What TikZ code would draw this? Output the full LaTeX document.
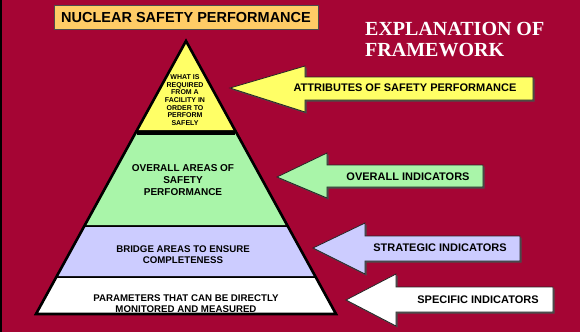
\documentclass[tikz,border=0pt]{standalone}
\usepackage{fontspec}
\setmainfont{Liberation Sans}
\newfontfamily\headserif{Liberation Serif}
\definecolor{slidered}{HTML}{A50534}
\definecolor{titleorange}{HTML}{FFCC66}
\definecolor{attryellow}{HTML}{FFFF66}
\definecolor{overallgreen}{HTML}{A9F5A9}
\definecolor{bridgelav}{HTML}{CCCCFF}
\begin{document}
\begin{tikzpicture}[x=1pt,y=-1pt,
  band/.style={draw=black,line width=1.5pt,line join=miter},
  arrowbox/.style={draw=black!85,line width=0.8pt},
  arrowshadow/.style={fill=black!70,draw=none},
  lbl/.style={font=\bfseries\fontsize{11}{12}\selectfont,inner sep=0pt},
  pyrtext/.style={align=center,inner sep=0pt,font=\bfseries\fontsize{9.7}{11.2}\selectfont}]
 \fill[slidered](0,0) rectangle (580,332);
 \useasboundingbox (0,0) rectangle (580,332);
 \fill[black](0,0) rectangle (2.2,332);
 % title and heading
 \node[fill=titleorange,draw=black!70,line width=0.6pt,minimum width=264pt,minimum height=24pt,inner sep=0pt,
   font=\bfseries\fontsize{14.5}{16}\selectfont] (title) at (186,17.5) {NUCLEAR SAFETY PERFORMANCE};
 \node[anchor=north west,align=left,inner sep=0pt,text=white,
   font=\headserif\bfseries\fontsize{20}{21.5}\selectfont] (heading) at (365,22) {EXPLANATION OF\\FRAMEWORK};
 % pyramid bands
 \draw[band,fill=attryellow](186,41)--(136.5,131)--(235.5,131)--cycle;
 \draw[band,fill=overallgreen](136.5,131)--(235.5,131)--(287.6,226)--(84.4,226)--cycle;
 \draw[band,fill=bridgelav](84.4,226)--(287.6,226)--(315.7,277)--(56.3,277)--cycle;
 \draw[band,fill=white](56.3,277)--(315.7,277)--(336,314)--(36,314)--cycle;
 \draw[black,line width=2.6pt,line join=miter](186,41)--(336,314)--(36,314)--cycle;
 \draw[black,line width=4.5pt](137,133)--(235,133);
 \node[pyrtext,font=\bfseries\fontsize{7}{7.7}\selectfont] (whatis) at (185,100)
   {WHAT IS\\REQUIRED\\FROM A\\FACILITY IN\\ORDER TO\\PERFORM\\SAFELY};
 \node[pyrtext,font=\bfseries\fontsize{10}{11.8}\selectfont] (areas) at (183,180) {OVERALL AREAS OF\\SAFETY\\PERFORMANCE};
 \node[pyrtext] (bridge) at (183,255) {BRIDGE AREAS TO ENSURE\\COMPLETENESS};
 \node[pyrtext] (params) at (186,304) {PARAMETERS THAT CAN BE DIRECTLY\\MONITORED AND MEASURED};
 % indicator arrows
 \fill[arrowshadow](231.5,89.5)--(306.5,67.5)--(306.5,78.5)--(534.5,78.5)--(534.5,101.5)--(306.5,101.5)--(306.5,113.5)--cycle;
 \draw[arrowbox,fill=attryellow](230,88)--(305,66)--(305,77)--(533,77)--(533,100)--(305,100)--(305,112)--cycle;
 \node[lbl] (attr) at (405,88) {ATTRIBUTES OF SAFETY PERFORMANCE};
 \fill[arrowshadow](278.5,178.5)--(328.5,154.5)--(328.5,166.5)--(484.5,166.5)--(484.5,188.5)--(328.5,188.5)--(328.5,199.5)--cycle;
 \draw[arrowbox,fill=overallgreen](277,177)--(327,153)--(327,165)--(483,165)--(483,187)--(327,187)--(327,198)--cycle;
 \node[lbl] (overall) at (408,177) {OVERALL INDICATORS};
 \fill[arrowshadow](314.5,249.5)--(366.5,224.5)--(366.5,237.5)--(521.5,237.5)--(521.5,262.5)--(366.5,262.5)--(366.5,275.5)--cycle;
 \draw[arrowbox,fill=bridgelav](313,248)--(365,223)--(365,236)--(520,236)--(520,261)--(365,261)--(365,274)--cycle;
 \node[lbl] (strategic) at (440,248) {STRATEGIC INDICATORS};
 \fill[arrowshadow](347.5,301.5)--(397.5,275.5)--(397.5,288.5)--(554.5,288.5)--(554.5,313.5)--(397.5,313.5)--(397.5,327.5)--cycle;
 \draw[arrowbox,fill=white](346,300)--(396,274)--(396,287)--(553,287)--(553,312)--(396,312)--(396,326)--cycle;
 \node[lbl] (specific) at (478,300) {SPECIFIC INDICATORS};
\end{tikzpicture}
\end{document}
